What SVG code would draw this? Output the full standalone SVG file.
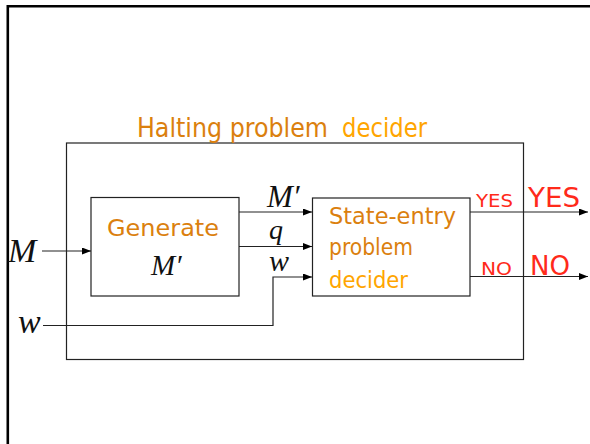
<svg xmlns="http://www.w3.org/2000/svg" width="590" height="444" viewBox="0 0 590 444">
  <defs>
    <marker id="arrow" markerWidth="9" markerHeight="7" refX="9" refY="3.5" orient="auto" markerUnits="userSpaceOnUse">
      <path d="M0,0 L9,3.5 L0,7 Z" fill="#000"/>
    </marker>
    <style>
      .box { fill: none; stroke: #222; stroke-width: 1.2; }
      .wire { fill: none; stroke: #222; stroke-width: 1.2; }
      .hand { font-family: "DejaVu Sans", "Noto Sans", sans-serif; }
      .dark { fill: #DB800E; }
      .light { fill: #FFA500; }
      .red { fill: #FF2A1A; }
      .math { font-family: "Liberation Serif", "DejaVu Serif", serif; font-style: italic; fill: #111; }
    </style>
  </defs>
  <rect width="590" height="444" fill="#fff"/>

  <!-- slide frame -->
  <path d="M7.8,444 V6.3 H590" fill="none" stroke="#000" stroke-width="2.6"/>

  <!-- outer halting decider -->
  <g id="halting-decider">
    <rect class="box" x="66.5" y="143" width="457" height="216.5"/>
    <text class="hand dark" x="137" y="137" font-size="26" textLength="191" lengthAdjust="spacingAndGlyphs">Halting problem</text>
    <text class="hand light" x="342" y="137" font-size="26" textLength="85" lengthAdjust="spacingAndGlyphs">decider</text>
  </g>

  <!-- generator of M' -->
  <g id="generate">
    <rect class="box" x="91" y="197.5" width="148" height="98.5"/>
    <text class="hand dark" x="107" y="236" font-size="23.5" textLength="112" lengthAdjust="spacingAndGlyphs">Generate</text>
    <text class="math" x="151" y="275" font-size="29">M′</text>
  </g>

  <!-- state-entry decider -->
  <g id="state-entry">
    <rect class="box" x="312.5" y="198" width="157.5" height="98"/>
    <text class="hand dark" x="329" y="224" font-size="23.5" textLength="127" lengthAdjust="spacingAndGlyphs">State-entry</text>
    <text class="hand dark" x="329" y="255" font-size="23.5" textLength="84" lengthAdjust="spacingAndGlyphs">problem</text>
    <text class="hand light" x="329" y="288" font-size="23.5" textLength="79" lengthAdjust="spacingAndGlyphs">decider</text>
  </g>

  <!-- connectors -->
  <g id="connectors">
    <line class="wire" x1="42" y1="251" x2="91" y2="251" marker-end="url(#arrow)"/>
    <line class="wire" x1="239" y1="212" x2="312" y2="212" marker-end="url(#arrow)"/>
    <line class="wire" x1="239" y1="246.5" x2="312" y2="246.5" marker-end="url(#arrow)"/>
    <polyline class="wire" points="43,325.5 273,325.5 273,277 312,277" marker-end="url(#arrow)"/>
    <line class="wire" x1="470" y1="212" x2="588" y2="212" marker-end="url(#arrow)"/>
    <line class="wire" x1="470" y1="276.5" x2="588" y2="276.5" marker-end="url(#arrow)"/>
  </g>

  <!-- signal labels -->
  <g id="labels">
    <text class="math" x="8" y="262" font-size="34">M</text>
    <text class="math" x="18" y="333" font-size="34">w</text>
    <text class="math" x="267" y="207" font-size="31">M′</text>
    <text class="math" x="269" y="239" font-size="28">q</text>
    <text class="math" x="269" y="271" font-size="30">w</text>
    <text class="hand red" x="476" y="206.5" font-size="18" textLength="37" lengthAdjust="spacingAndGlyphs">YES</text>
    <text class="hand red" x="528" y="206.5" font-size="27" textLength="52" lengthAdjust="spacingAndGlyphs">YES</text>
    <text class="hand red" x="481" y="275" font-size="18" textLength="31" lengthAdjust="spacingAndGlyphs">NO</text>
    <text class="hand red" x="530" y="275" font-size="27" textLength="40" lengthAdjust="spacingAndGlyphs">NO</text>
  </g>
</svg>
